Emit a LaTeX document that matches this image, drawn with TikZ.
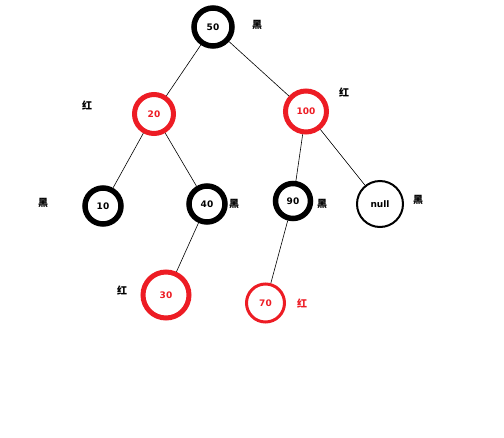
\documentclass[tikz,border=0pt]{standalone}
\usepackage{fontspec}
\setmainfont{DejaVu Sans}
\newfontfamily\cjk{Noto Sans CJK SC}
\definecolor{rbred}{RGB}{237,28,36}
\begin{document}
\begin{tikzpicture}[x=1pt,y=-1pt,
  nd/.style={circle,inner sep=0pt,font=\fontsize{9}{10}\selectfont\bfseries},
  blk/.style={nd,draw=black,line width=5.5pt,text=black},
  rd/.style={nd,draw=rbred,line width=5pt,text=rbred},
  lbl/.style={font=\cjk\fontsize{10}{11}\selectfont\bfseries,inner sep=0pt},
  edge/.style={draw=black,line width=0.6pt}]
\useasboundingbox (0,0) rectangle (504,437);
\node[blk,minimum size=38pt] (n50) at (213,27) {50};
\node[rd,minimum size=39pt] (n20) at (154,114) {20};
\node[rd,minimum size=41pt] (n100) at (306,111.5) {100};
\node[blk,minimum size=36pt] (n10) at (103,206) {10};
\node[blk,minimum size=36pt] (n40) at (207,204) {40};
\node[blk,minimum size=35pt] (n90) at (293,201) {90};
\node[nd,draw=black,line width=2pt,minimum size=46pt] (nnull) at (380,204) {null};
\node[rd,minimum size=46pt] (n30) at (166,295) {30};
\node[rd,line width=3pt,minimum size=38pt] (n70) at (265.5,303) {70};
\draw[edge] (n50) -- (n20);
\draw[edge] (n50) -- (n100);
\draw[edge] (n20) -- (n10);
\draw[edge] (n20) -- (n40);
\draw[edge] (n100) -- (n90);
\draw[edge] (n100) -- (nnull);
\draw[edge] (n40) -- (n30);
\draw[edge] (n90) -- (n70);
\node[lbl] (l50) at (257,25) {黑};
\node[lbl] (l20) at (87,106) {红};
\node[lbl] (l100) at (344,93) {红};
\node[lbl] (l10) at (43,203) {黑};
\node[lbl] (l40) at (234,204) {黑};
\node[lbl] (l90) at (322,204) {黑};
\node[lbl] (lnull) at (418,200) {黑};
\node[lbl] (l30) at (122,291) {红};
\node[lbl,text=rbred] (l70) at (302,304) {红};
\end{tikzpicture}
\end{document}
